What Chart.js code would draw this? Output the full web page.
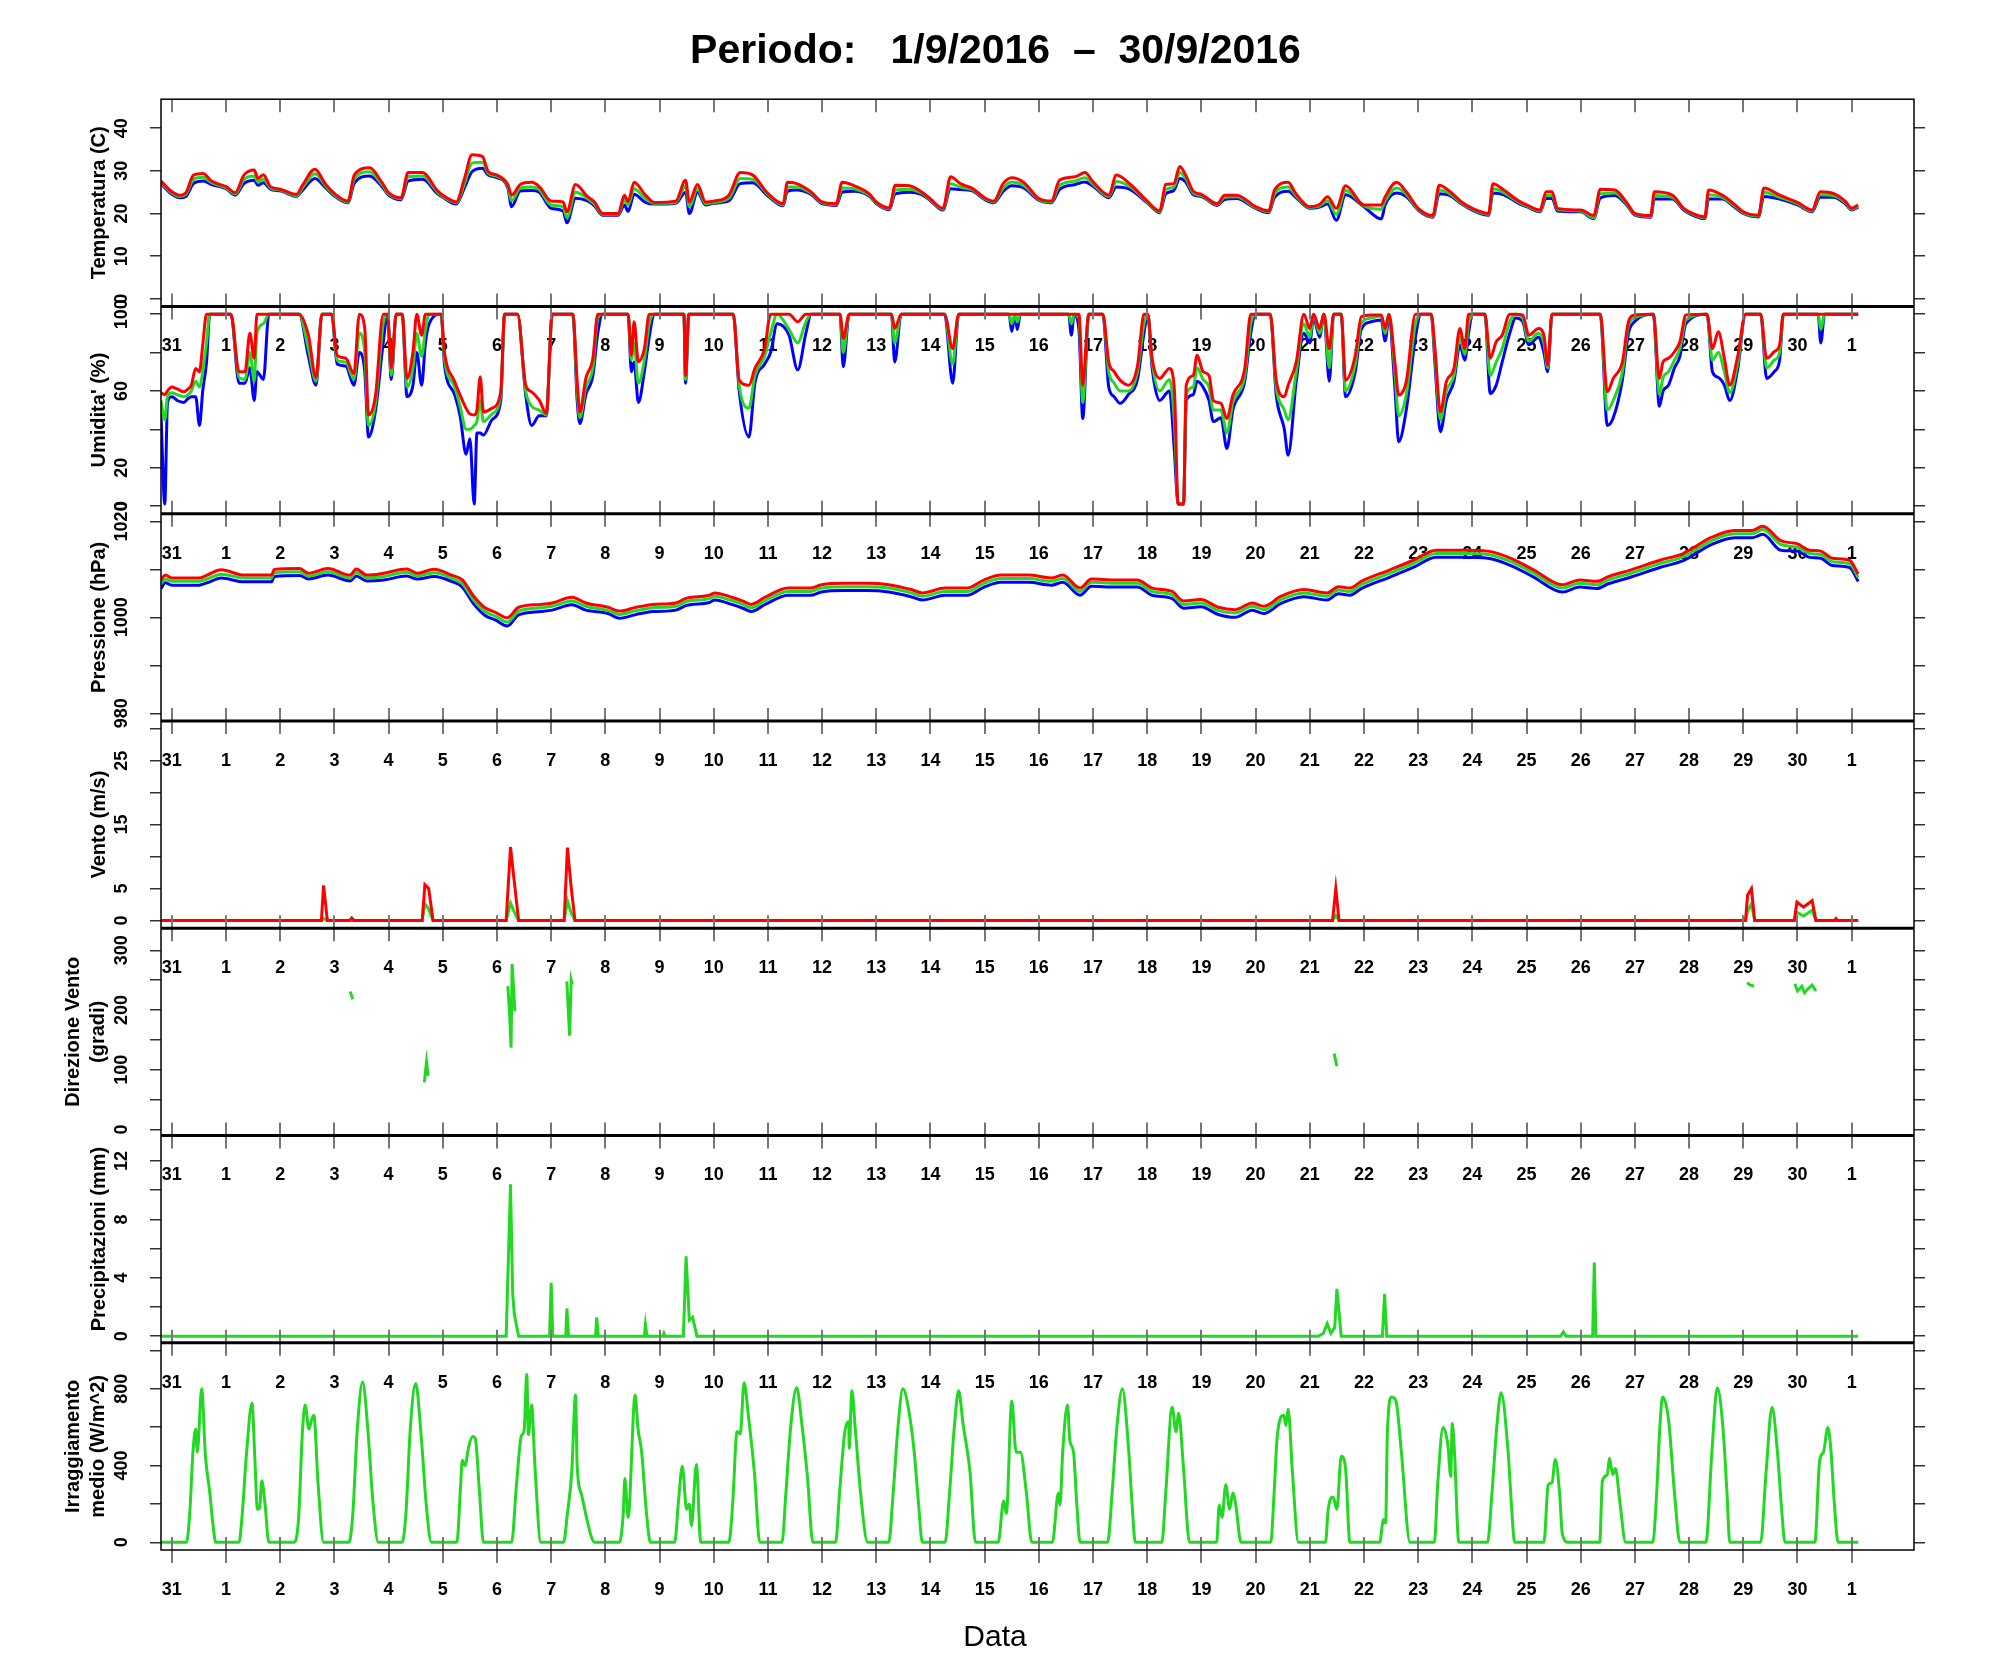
<!DOCTYPE html>
<html>
<head>
<meta charset="utf-8">
<title>Periodo 1/9/2016 - 30/9/2016</title>
<script src="https://cdn.jsdelivr.net/npm/chart.js@4.4.1/dist/chart.umd.min.js"></script>
<style>
  body { margin: 0; background: #fff; }
  #wrap { width: 1991px; height: 1680px; }
</style>
</head>
<body>
<div id="wrap"><canvas id="meteo" width="1991" height="1680"></canvas></div>
<script>
// asse x in giorni: 0 = "31" (agosto), 31 = "1" (ottobre)
const dayTicks = [0,1,2,3,4,5,6,7,8,9,10,11,12,13,14,15,16,17,18,19,20,21,22,23,24,25,26,27,28,29,30,31];
const dayLabels = ['31','1','2','3','4','5','6','7','8','9','10','11','12','13','14','15','16','17','18','19','20','21','22','23','24','25','26','27','28','29','30','1'];

// temperatura (C): max rosso, media verde, min blu
const tempX = [
  -0.2, 0, 0.15, 0.26, 0.4, 0.58, 0.73, 1.0, 1.17, 1.33,
  1.52, 1.59, 1.69, 1.82, 2.0, 2.3, 2.41, 2.64, 2.84, 3.0,
  3.25, 3.37, 3.65, 3.87, 4.0, 4.23, 4.36, 4.63, 4.89, 5.0,
  5.25, 5.4, 5.54, 5.73, 5.84, 6.0, 6.2, 6.27, 6.43, 6.64,
  6.78, 7.0, 7.22, 7.29, 7.45, 7.66, 7.8, 7.95, 8.24, 8.35,
  8.42, 8.53, 8.74, 8.9, 9.3, 9.48, 9.55, 9.7, 9.85, 10.0,
  10.28, 10.49, 10.72, 11.0, 11.28, 11.36, 11.53, 11.79, 12.0, 12.26,
  12.37, 12.59, 12.88, 13.0, 13.24, 13.35, 13.61, 13.83, 14.0, 14.23,
  14.37, 14.55, 14.77, 15.0, 15.17, 15.34, 15.5, 15.72, 16.0, 16.23,
  16.38, 16.67, 16.85, 17.0, 17.29, 17.43, 17.69, 18.0, 18.23, 18.34,
  18.49, 18.6, 18.71, 18.85, 19.0, 19.29, 19.43, 19.65, 20.0, 20.24,
  20.35, 20.6, 20.74, 21.0, 21.18, 21.33, 21.49, 21.66, 22.0, 22.32,
  22.39, 22.6, 22.78, 23.0, 23.27, 23.39, 23.59, 23.8, 24.0, 24.3,
  24.38, 24.58, 24.86, 25.0, 25.25, 25.36, 25.47, 25.57, 26.0, 26.24,
  26.36, 26.63, 26.84, 27.0, 27.29, 27.36, 27.69, 27.9, 28.0, 28.29,
  28.36, 28.61, 28.82, 29.0, 29.28, 29.38, 29.67, 30.0, 30.27, 30.42,
  30.66, 30.88, 31.0, 31.12
];
const tempMax = [
  27.6, 25.1, 24.3, 24.9, 29.0, 29.4, 27.6, 26.3, 24.9, 29.0,
  30.2, 28.2, 29.1, 26.3, 25.7, 24.5, 26.6, 30.4, 26.8, 24.7,
  22.9, 29.1, 30.7, 27.4, 24.9, 23.7, 29.6, 29.6, 25.5, 24.3,
  22.7, 28.2, 33.8, 33.4, 29.8, 29.0, 26.8, 24.3, 26.8, 27.3,
  26.3, 22.9, 22.7, 20.4, 26.8, 24.1, 22.7, 20.0, 20.0, 24.3,
  22.8, 27.3, 24.3, 22.6, 22.9, 27.8, 22.7, 26.8, 22.7, 22.9,
  24.3, 29.6, 29.0, 24.7, 22.3, 27.3, 27.0, 25.1, 22.7, 22.3,
  27.3, 26.5, 24.5, 22.7, 21.3, 26.6, 26.5, 25.1, 23.4, 21.2,
  28.6, 27.0, 25.9, 23.7, 22.9, 27.0, 28.4, 27.3, 23.5, 22.9,
  27.8, 28.6, 29.6, 27.4, 24.3, 29.0, 26.8, 22.9, 20.6, 26.8,
  27.0, 31.0, 29.0, 25.2, 24.5, 22.3, 24.3, 24.3, 21.6, 20.6,
  25.5, 27.3, 24.7, 21.6, 22.1, 23.9, 21.2, 26.5, 22.0, 22.0,
  23.9, 27.3, 25.1, 21.2, 19.5, 26.6, 25.1, 22.7, 21.2, 20.0,
  27.0, 25.5, 22.9, 22.0, 20.8, 25.1, 25.1, 21.2, 20.8, 19.5,
  25.7, 25.5, 22.7, 20.0, 19.5, 25.1, 24.3, 21.2, 20.4, 19.2,
  25.5, 24.3, 22.3, 20.4, 19.6, 26.0, 24.3, 22.6, 20.8, 25.1,
  24.7, 22.9, 21.2, 22.0
];
const tempMean = [
  27.3, 24.8, 24.0, 24.5, 28.0, 28.5, 27.2, 26.0, 24.6, 28.0,
  28.8, 27.4, 28.0, 26.0, 25.5, 24.2, 26.0, 29.3, 26.4, 24.4,
  22.7, 28.2, 29.8, 26.9, 24.6, 23.5, 28.6, 28.8, 25.2, 24.0,
  22.5, 27.0, 31.8, 32.0, 29.4, 28.7, 26.4, 23.0, 26.0, 26.2,
  25.6, 22.0, 21.6, 19.0, 25.0, 23.6, 22.2, 19.8, 19.8, 23.2,
  22.0, 25.8, 23.5, 22.4, 22.6, 26.4, 21.6, 25.8, 22.3, 22.6,
  23.6, 28.2, 28.0, 24.4, 22.0, 26.2, 26.2, 24.8, 22.5, 22.1,
  26.0, 25.8, 24.2, 22.5, 21.1, 25.5, 25.7, 24.8, 23.2, 21.0,
  27.0, 26.2, 25.6, 23.5, 22.7, 26.0, 27.4, 26.6, 23.3, 22.7,
  26.6, 27.6, 28.4, 26.9, 24.0, 27.5, 26.2, 22.7, 20.4, 25.6,
  26.2, 29.6, 28.2, 24.8, 24.2, 22.1, 23.8, 23.9, 21.4, 20.4,
  24.6, 26.2, 24.2, 21.4, 21.8, 23.0, 19.8, 25.4, 21.8, 21.0,
  23.0, 26.0, 24.5, 21.0, 19.3, 25.5, 24.6, 22.4, 21.0, 19.8,
  25.8, 24.9, 22.6, 21.8, 20.6, 24.2, 24.3, 21.0, 20.6, 19.0,
  24.6, 24.8, 22.4, 19.8, 19.3, 24.2, 23.8, 21.0, 20.2, 19.0,
  24.4, 23.8, 22.0, 20.2, 19.4, 25.0, 23.8, 22.3, 20.6, 24.4,
  24.2, 22.6, 21.0, 21.7
];
const tempMin = [
  27.0, 24.5, 23.7, 24.0, 27.0, 27.6, 26.8, 25.8, 24.3, 27.0,
  27.8, 26.6, 27.2, 25.7, 25.3, 24.0, 25.4, 28.2, 26.0, 24.1,
  22.5, 27.2, 28.8, 26.4, 24.3, 23.2, 27.6, 28.0, 24.8, 23.8,
  22.2, 26.0, 29.8, 30.6, 29.0, 28.4, 26.0, 21.6, 25.3, 25.4,
  25.0, 21.2, 20.6, 17.8, 23.6, 23.0, 21.8, 19.6, 19.6, 22.0,
  20.5, 24.5, 22.6, 22.2, 22.4, 25.0, 20.0, 25.0, 22.0, 22.4,
  23.0, 27.0, 27.2, 24.1, 21.8, 25.2, 25.5, 24.5, 22.3, 21.9,
  25.0, 25.2, 24.0, 22.3, 20.9, 24.6, 25.0, 24.5, 23.0, 20.8,
  25.8, 25.6, 25.3, 23.3, 22.5, 25.2, 26.5, 26.0, 23.1, 22.5,
  25.6, 26.8, 27.4, 26.4, 23.7, 26.2, 25.6, 22.5, 20.2, 24.6,
  25.4, 28.2, 27.4, 24.4, 24.0, 21.9, 23.3, 23.5, 21.2, 20.2,
  23.8, 25.2, 23.8, 21.2, 21.5, 22.2, 18.4, 24.4, 21.6, 18.7,
  22.0, 24.8, 24.0, 20.8, 19.1, 24.6, 24.2, 22.2, 20.8, 19.6,
  24.8, 24.4, 22.3, 21.6, 20.4, 23.5, 23.6, 20.6, 20.4, 18.8,
  23.6, 24.2, 22.1, 19.6, 19.1, 23.4, 23.4, 20.8, 20.0, 18.8,
  23.4, 23.4, 21.7, 20.0, 19.2, 24.0, 23.4, 22.0, 20.4, 23.8,
  23.8, 22.3, 20.8, 21.5
];

// umidita' (%)
const humX = [
  -0.2, -0.13, -0.08, 0, 0.1, 0.22, 0.3, 0.36, 0.44, 0.51,
  0.57, 0.64, 0.7, 1.09, 1.24, 1.35, 1.44, 1.52, 1.57, 1.69,
  1.79, 2.35, 2.52, 2.66, 2.77, 2.95, 3.05, 3.21, 3.36, 3.46,
  3.56, 3.63, 3.76, 3.9, 3.98, 4.05, 4.14, 4.25, 4.34, 4.45,
  4.52, 4.61, 4.68, 4.75, 4.97, 5.03, 5.22, 5.32, 5.43, 5.5,
  5.58, 5.63, 5.69, 5.75, 5.91, 6.07, 6.14, 6.38, 6.53, 6.64,
  6.78, 6.91, 7.02, 7.4, 7.48, 7.53, 7.64, 7.77, 7.86, 7.95,
  8.42, 8.48, 8.53, 8.61, 8.72, 8.81, 8.9, 9.45, 9.48, 9.54,
  10.36, 10.47, 10.65, 10.76, 10.94, 11.05, 11.17, 11.39, 11.55, 11.7,
  11.8, 12.33, 12.39, 12.5, 13.28, 13.34, 13.46, 14.26, 14.41, 14.52,
  15.45, 15.5, 15.56, 15.6, 15.66, 16.55, 16.6, 16.65, 16.74, 16.81,
  16.92, 17.18, 17.29, 17.39, 17.5, 17.65, 17.82, 17.94, 18.01, 18.09,
  18.23, 18.41, 18.5, 18.57, 18.67, 18.72, 18.85, 18.92, 19.03, 19.14,
  19.22, 19.36, 19.47, 19.58, 19.8, 19.91, 20.0, 20.27, 20.38, 20.53,
  20.6, 20.75, 20.89, 21.0, 21.07, 21.18, 21.26, 21.36, 21.44, 21.58,
  21.66, 21.84, 21.95, 22.13, 22.32, 22.39, 22.46, 22.57, 22.64, 22.78,
  22.95, 23.05, 23.24, 23.31, 23.41, 23.52, 23.66, 23.77, 23.86, 23.93,
  24.0, 24.23, 24.33, 24.44, 24.55, 24.69, 24.8, 24.93, 25.04, 25.22,
  25.32, 25.39, 25.47, 26.36, 26.49, 26.6, 26.77, 26.88, 26.99, 27.34,
  27.45, 27.52, 27.62, 27.73, 27.83, 27.94, 28.33, 28.43, 28.54, 28.65,
  28.75, 28.9, 29.04, 29.32, 29.43, 29.57, 29.67, 29.74, 30.38, 30.43,
  30.5, 31.12
];
const humMax = [
  59, 58, 60, 62, 61, 59.5, 61, 63, 71.7, 70,
  84, 100, 100, 100, 70, 70, 90, 77, 100, 100,
  100, 100, 89, 67, 100, 100, 78.6, 77, 69, 100,
  92.5, 47.4, 58, 100, 100, 72, 100, 100, 66.5, 80.4,
  100, 89, 100, 100, 100, 80.4, 64.8, 57.8, 50.9, 48,
  47.4, 50, 67.4, 49, 51, 59.5, 100, 100, 63, 59.5,
  55.2, 48.3, 100, 100, 64.8, 49, 66.5, 77, 100, 100,
  100, 78.6, 96, 75.2, 82, 100, 100, 100, 68, 100,
  100, 65.6, 63, 71.7, 82, 100, 100, 100, 96, 100,
  100, 100, 87.3, 100, 100, 92.5, 100, 100, 82, 100,
  100, 100, 100, 100, 100, 100, 100, 100, 100, 63,
  100, 100, 75, 70, 65.6, 63, 73, 100, 100, 77,
  66.5, 71.7, 61, 1, 1, 63, 68, 78.6, 70, 68,
  55, 53.5, 45.6, 57.8, 71.7, 100, 100, 100, 65.6, 57,
  63, 75, 100, 92.5, 100, 92.5, 100, 82, 100, 100,
  65.6, 78.6, 98.6, 99.5, 99.5, 92.5, 100, 75, 57.8, 64.8,
  100, 100, 100, 82, 49, 64.8, 71.7, 92.5, 82, 100,
  100, 100, 77, 85.6, 89, 100, 100, 99.5, 89, 92.5,
  89, 73.4, 100, 100, 59.5, 66.5, 75.2, 96, 99.5, 100,
  66.5, 75.2, 77, 80.4, 85.6, 99.5, 100, 82, 90.8, 77,
  63, 78.6, 100, 100, 77, 80.4, 84, 100, 100, 100,
  100, 100
];
const humMean = [
  55, 45, 57, 59, 58, 57, 58, 60, 65, 62,
  70, 85, 100, 100, 67, 66, 80, 65, 90, 95,
  100, 100, 82, 65, 100, 100, 76, 75, 66, 90,
  80, 42, 54, 95, 100, 68, 100, 100, 62, 72,
  90, 78, 92, 100, 100, 77, 62, 52, 40, 40,
  42, 44, 55, 44, 48, 58, 100, 100, 60, 52,
  50, 47.5, 100, 100, 60, 46, 62, 72, 98, 100,
  100, 76, 85, 64, 76, 95, 100, 100, 66, 100,
  100, 63, 51, 68, 78, 90, 100, 92, 85, 96,
  100, 100, 80, 100, 100, 85, 100, 100, 74, 100,
  100, 95, 100, 96, 100, 100, 95, 100, 98, 54,
  100, 100, 70, 64, 60, 60, 70, 95, 100, 75,
  60, 66, 45, 1, 1, 58, 62, 72, 66, 62,
  50, 50, 38, 54, 68, 95, 100, 100, 62, 50,
  45, 70, 95, 88, 100, 90, 100, 72, 100, 100,
  60, 74, 95, 98, 99, 90, 100, 70, 47, 58,
  95, 100, 100, 78, 45, 60, 68, 88, 79, 95,
  100, 100, 68, 75, 82, 96, 100, 98, 86, 90,
  85, 72, 100, 100, 50, 55, 70, 94, 98, 100,
  58, 67, 70, 76, 82, 97, 100, 76, 80, 70,
  59, 75, 100, 100, 72, 76, 80, 100, 100, 92,
  100, 100
];
const humMin = [
  48, 1, 54, 57, 55, 54, 56, 57, 57, 42,
  60, 75, 100, 100, 64, 64, 72, 55, 70, 66,
  100, 100, 78, 63, 100, 100, 74, 73, 63, 80,
  70, 36, 50, 85, 100, 66, 100, 100, 57, 63,
  80, 63, 85, 95, 100, 74, 58, 47, 27, 35,
  1, 38, 38, 37, 45, 55, 100, 100, 58, 42,
  47, 47, 100, 100, 55, 43, 58, 68, 90, 100,
  100, 70, 75, 54, 70, 88, 100, 100, 64, 100,
  100, 60, 36, 64, 74, 80, 95, 89, 71, 90,
  100, 100, 72.6, 100, 100, 75, 100, 100, 64, 100,
  100, 91, 100, 92, 100, 100, 89, 100, 92, 45.6,
  100, 100, 62, 57, 53.5, 58, 66, 90, 100, 72,
  55, 60, 29, 1, 1, 55, 58, 65, 62, 55,
  44, 46, 30, 50, 65, 90, 100, 100, 58, 40,
  26.5, 65, 90, 85, 98, 88, 100, 65, 100, 100,
  57, 70, 92, 96, 97, 86, 98, 62, 33.5, 50,
  88, 100, 100, 74, 38.7, 55, 65, 84, 76, 90,
  100, 100, 58.7, 63, 75, 90, 98, 96, 84, 88,
  80, 70, 100, 100, 42, 46, 66, 90, 96, 100,
  52, 60, 63, 72, 78, 95, 100, 70, 67, 63,
  55, 72, 100, 100, 66.5, 70, 76, 100, 100, 85,
  100, 100
];

// pressione (hPa)
const presX = [
  -0.2, -0.12, 0, 0.5, 0.65, 0.91, 1.33, 1.84, 1.89, 2.36,
  2.52, 2.88, 3.29, 3.4, 3.6, 3.91, 4.33, 4.53, 4.84, 5.16,
  5.36, 5.57, 5.78, 5.98, 6.19, 6.4, 6.81, 7.02, 7.38, 7.64,
  8.05, 8.26, 8.57, 8.88, 9.3, 9.5, 9.92, 10.02, 10.33, 10.54,
  10.69, 10.95, 11.37, 11.78, 11.99, 12.4, 12.82, 13.23, 13.64, 13.85,
  14.27, 14.68, 14.99, 15.3, 15.81, 16.23, 16.44, 16.76, 16.97, 17.4,
  17.82, 18.09, 18.46, 18.67, 18.99, 19.31, 19.62, 19.94, 20.15, 20.47,
  20.89, 21.32, 21.53, 21.74, 21.95, 22.48, 22.91, 23.33, 23.86, 24.28,
  24.71, 25.13, 25.66, 25.98, 26.3, 26.51, 26.93, 27.46, 27.89, 28.42,
  28.84, 29.16, 29.36, 29.69, 30.0, 30.22, 30.43, 30.64, 30.96, 31.12
];
const presMax = [
  1007.8, 1008.8, 1008.2, 1008.2, 1008.8, 1009.9, 1008.8, 1008.8, 1010.0, 1010.2,
  1009.2, 1010.2, 1008.8, 1010.1, 1008.8, 1009.2, 1010.1, 1009.2, 1010.0, 1008.8,
  1007.8, 1004.4, 1002.0, 1001.0, 999.9, 1002.1, 1002.7, 1003.0, 1004.2, 1003.0,
  1002.1, 1001.3, 1002.1, 1002.7, 1003.0, 1004.0, 1004.6, 1005.1, 1004.2, 1003.4,
  1002.7, 1004.2, 1006.1, 1006.1, 1006.8, 1007.1, 1007.1, 1006.8, 1005.8, 1005.1,
  1006.1, 1006.1, 1007.8, 1008.8, 1008.8, 1008.2, 1008.8, 1006.1, 1008.0, 1007.8,
  1007.8, 1006.1, 1005.4, 1003.4, 1003.7, 1002.1, 1001.6, 1003.0, 1002.3, 1004.4,
  1005.8, 1005.1, 1006.4, 1006.1, 1007.5, 1009.9, 1011.9, 1014.0, 1014.0, 1013.8,
  1012.3, 1009.9, 1006.8, 1007.8, 1007.5, 1008.5, 1009.9, 1011.9, 1013.3, 1016.7,
  1018.1, 1018.1, 1019.0, 1016.0, 1015.3, 1014.0, 1013.8, 1012.3, 1011.9, 1009.0
];
const presMean = [
  1007.0, 1008.0, 1007.5, 1007.5, 1008.0, 1009.0, 1008.2, 1008.2, 1009.3, 1009.5,
  1008.6, 1009.5, 1008.2, 1009.4, 1008.2, 1008.5, 1009.4, 1008.6, 1009.3, 1008.2,
  1007.0, 1003.6, 1001.2, 1000.2, 999.0, 1001.3, 1002.0, 1002.3, 1003.4, 1002.3,
  1001.4, 1000.6, 1001.4, 1002.0, 1002.3, 1003.3, 1003.9, 1004.4, 1003.5, 1002.7,
  1002.0, 1003.5, 1005.4, 1005.4, 1006.1, 1006.4, 1006.4, 1006.1, 1005.1, 1004.4,
  1005.4, 1005.4, 1007.1, 1008.1, 1008.1, 1007.5, 1008.1, 1005.4, 1007.3, 1007.1,
  1007.1, 1005.4, 1004.7, 1002.7, 1003.0, 1001.4, 1000.9, 1002.3, 1001.6, 1003.7,
  1005.1, 1004.4, 1005.7, 1005.4, 1006.8, 1009.2, 1011.2, 1013.3, 1013.3, 1013.1,
  1011.6, 1009.2, 1006.1, 1007.1, 1006.8, 1007.8, 1009.2, 1011.2, 1012.6, 1016.0,
  1017.4, 1017.4, 1018.3, 1015.2, 1014.6, 1013.3, 1013.1, 1011.6, 1011.2, 1008.3
];
const presMin = [
  1006.0, 1007.2, 1006.7, 1006.7, 1007.2, 1008.2, 1007.4, 1007.4, 1008.5, 1008.7,
  1008.0, 1008.8, 1007.6, 1008.6, 1007.6, 1007.8, 1008.6, 1008.0, 1008.5, 1007.5,
  1006.3, 1002.8, 1000.4, 999.4, 998.2, 1000.5, 1001.2, 1001.5, 1002.6, 1001.5,
  1000.8, 999.8, 1000.6, 1001.2, 1001.5, 1002.5, 1003.1, 1003.6, 1002.7, 1001.9,
  1001.2, 1002.7, 1004.6, 1004.6, 1005.3, 1005.6, 1005.6, 1005.3, 1004.3, 1003.6,
  1004.6, 1004.6, 1006.3, 1007.3, 1007.3, 1006.7, 1007.3, 1004.6, 1006.5, 1006.3,
  1006.3, 1004.6, 1003.9, 1001.9, 1002.2, 1000.6, 1000.0, 1001.5, 1000.8, 1002.9,
  1004.3, 1003.6, 1004.9, 1004.6, 1006.0, 1008.4, 1010.4, 1012.5, 1012.5, 1012.3,
  1010.8, 1008.4, 1005.3, 1006.3, 1006.0, 1007.0, 1008.4, 1010.4, 1011.8, 1015.2,
  1016.6, 1016.6, 1017.3, 1014.0, 1013.8, 1012.5, 1012.3, 1010.8, 1010.4, 1007.5
];

// vento (m/s): raffica rossa, media verde
const windX = [-0.2, 2.76, 2.8, 2.87, 3.28, 3.32, 3.36, 4.62, 4.67, 4.74, 4.82, 6.17, 6.25, 6.31, 6.4, 7.24, 7.3, 7.37, 7.44,
  21.42, 21.48, 21.54, 29.04, 29.08, 29.15, 29.21, 29.94, 29.99, 30.11, 30.27, 30.34, 30.68, 30.71, 30.74, 31.12];
const windMax = [0, 0, 5.5, 0, 0, 0.4, 0, 0, 5.6, 5.0, 0, 0, 11.5, 6.8, 0, 0, 11.4, 5.2, 0,
  0, 5.0, 0, 0, 4.0, 5.0, 0, 0, 2.9, 2.1, 3.1, 0, 0, 0.3, 0, 0];
const windMean = [0, 0, 0.3, 0, 0, 0, 0, 0, 2.6, 1.8, 0, 0, 2.7, 1.5, 0, 0, 3.1, 1.2, 0,
  0, 0.8, 0, 0, 1.5, 2.6, 0, 0, 1.3, 0.7, 1.6, 0, 0, 0, 0, 0];

// direzione vento (gradi), null = nessun dato
const dirX = [3.29, 3.34, 3.35, 4.66, 4.70, 4.73, 4.74, 6.2, 6.23, 6.26, 6.28, 6.31, 6.33, 6.34,
  7.29, 7.34, 7.37, 7.39, 7.4, 21.45, 21.5, 21.51, 29.07, 29.12, 29.2, 29.21,
  29.95, 30.0, 30.08, 30.13, 30.2, 30.27, 30.34];
const dirMean = [231, 218, null, 79, 113, 90, null, 240, 200, 137, 277, 230, 198, null,
  248, 157, 250, 243, null, 127, 106, null, 246, 242, 240, null,
  244, 232, 240, 229, 236, 242, 232];

// precipitazioni (mm)
const rainX = [-0.2, 6.17, 6.25, 6.29, 6.32, 6.4, 6.97, 7.0, 7.03, 7.27, 7.29, 7.32, 7.82, 7.84, 7.87,
  8.72, 8.74, 8.77, 9.06, 9.08, 9.1, 9.44, 9.49, 9.55, 9.61, 9.69,
  21.16, 21.25, 21.32, 21.39, 21.46, 21.5, 21.58, 22.34, 22.38, 22.42,
  25.63, 25.68, 25.73, 26.22, 26.25, 26.28, 31.12];
const rainV = [0, 0, 10.4, 2.96, 1.5, 0, 0, 3.65, 0, 0, 1.9, 0, 0, 1.28, 0,
  0, 0.8, 0, 0, 0.2, 0, 0, 5.47, 1.1, 1.3, 0,
  0, 0.2, 0.86, 0.2, 0.6, 3.24, 0, 0, 2.9, 0,
  0, 0.3, 0, 0, 5.05, 0, 0];

// irraggiamento medio (W/m^2), un gruppo per giorno
const radX = [-0.2,
  0.27, 0.33, 0.39, 0.44, 0.47, 0.55, 0.62, 0.70, 0.76, 0.81,
  1.24, 1.3, 1.38, 1.48, 1.53, 1.58, 1.62, 1.66, 1.72, 1.79,
  2.26, 2.34, 2.41, 2.46, 2.53, 2.58, 2.62, 2.7, 2.8,
  3.27, 3.34, 3.42, 3.52, 3.62, 3.71, 3.81,
  4.25, 4.32, 4.40, 4.50, 4.60, 4.70, 4.79,
  5.26, 5.33, 5.36, 5.41, 5.48, 5.55, 5.6, 5.68, 5.75,
  6.27, 6.36, 6.45, 6.5, 6.55, 6.58, 6.64, 6.7, 6.81,
  7.23, 7.3, 7.38, 7.45, 7.48, 7.56, 7.66, 7.74, 7.8,
  8.26, 8.33, 8.36, 8.42, 8.55, 8.6, 8.67, 8.76, 8.83,
  9.28, 9.35, 9.42, 9.5, 9.55, 9.59, 9.68, 9.76,
  10.28, 10.35, 10.43, 10.49, 10.56, 10.64, 10.75, 10.85,
  11.26, 11.33, 11.42, 11.53, 11.63, 11.73, 11.83,
  12.25, 12.32, 12.42, 12.49, 12.5, 12.55, 12.61, 12.71, 12.84,
  13.23, 13.31, 13.4, 13.49, 13.59, 13.7, 13.78, 13.85,
  14.27, 14.35, 14.44, 14.52, 14.6, 14.73, 14.83,
  15.25, 15.35, 15.4, 15.5, 15.58, 15.66, 15.77, 15.87,
  16.25, 16.36, 16.39, 16.44, 16.53, 16.57, 16.64, 16.7, 16.76,
  17.27, 17.35, 17.44, 17.54, 17.66, 17.72, 17.78,
  18.27, 18.34, 18.46, 18.53, 18.58, 18.67, 18.78,
  19.28, 19.33, 19.38, 19.45, 19.52, 19.58, 19.64, 19.73,
  20.28, 20.34, 20.4, 20.52, 20.56, 20.6, 20.68, 20.79,
  21.29, 21.34, 21.43, 21.5, 21.58, 21.66, 21.74,
  22.29, 22.36, 22.4, 22.43, 22.51, 22.59, 22.69, 22.85,
  23.3, 23.36, 23.46, 23.55, 23.6, 23.63, 23.67, 23.75,
  24.28, 24.36, 24.45, 24.53, 24.66, 24.72, 24.78,
  25.32, 25.4, 25.47, 25.53, 25.61, 25.66, 25.77,
  26.35, 26.4, 26.49, 26.53, 26.59, 26.64, 26.72, 26.83,
  27.33, 27.4, 27.46, 27.51, 27.62, 27.73, 27.83,
  28.31, 28.42, 28.52, 28.63, 28.7, 28.75,
  29.32, 29.42, 29.53, 29.63, 29.7, 29.77,
  30.32, 30.41, 30.48, 30.56, 30.62, 30.68, 30.75, 31.12
];
const radV = [0,
  0, 150, 470, 590, 470, 800, 450, 260, 90, 0,
  0, 150, 470, 725, 450, 172, 180, 321, 200, 0,
  0, 130, 577, 715, 590, 640, 662, 300, 0,
  0, 150, 577, 836, 577, 215, 0,
  0, 150, 590, 828, 560, 180, 0,
  0, 300, 428, 400, 500, 551, 540, 250, 0,
  0, 300, 555, 580, 874, 560, 715, 400, 0,
  0, 150, 364, 768, 400, 250, 120, 30, 0,
  0, 150, 332, 130, 768, 598, 470, 150, 0,
  0, 215, 396, 172, 200, 87, 406, 0,
  0, 200, 577, 565, 832, 660, 364, 0,
  0, 250, 600, 806, 608, 340, 0,
  0, 250, 577, 630, 490, 790, 600, 257, 0,
  0, 250, 600, 800, 704, 470, 200, 0,
  0, 250, 600, 790, 620, 364, 0,
  0, 215, 150, 736, 470, 470, 257, 0,
  0, 257, 194, 470, 715, 534, 470, 200, 0,
  0, 250, 600, 800, 470, 200, 0,
  0, 250, 704, 577, 672, 385, 0,
  0, 194, 130, 300, 172, 257, 183, 0,
  0, 250, 555, 662, 609, 694, 364, 0,
  0, 172, 236, 172, 449, 385, 0,
  0, 119, 100, 555, 757, 736, 470, 0,
  0, 300, 598, 502, 343, 619, 470, 0,
  0, 250, 600, 779, 470, 200, 0,
  0, 300, 311, 432, 257, 45, 0,
  0, 321, 353, 438, 353, 385, 215, 0,
  0, 250, 600, 757, 640, 257, 0,
  0, 470, 806, 577, 250, 0,
  0, 364, 704, 470, 200, 0,
  0, 428, 470, 598, 470, 200, 0, 0
];

// tacche degli assi y e quali etichette R lascia visibili
const tempTicks = [0, 10, 20, 30, 40],          tempShown = [0, 10, 20, 30, 40];
const humTicks = [0, 20, 40, 60, 80, 100],      humShown = [0, 20, 60, 100];
const presTicks = [980, 990, 1000, 1010, 1020], presShown = [980, 1000, 1020];
const windTicks = [0, 5, 10, 15, 20, 25, 30],   windShown = [0, 5, 15, 25];
const dirTicks = [0, 50, 100, 150, 200, 250, 300], dirShown = [0, 100, 200, 300];
const rainTicks = [0, 2, 4, 6, 8, 10, 12],      rainShown = [0, 4, 8, 12];
const radTicks = [0, 200, 400, 600, 800, 1000], radShown = [0, 400, 800];

const FONT = '"Liberation Sans", Arial, Helvetica, sans-serif';
const RED = '#ff0000', GREEN = '#22d822', BLUE = '#0000ff';
Chart.defaults.font.family = FONT;

const panels = [
  {id: 'yT', min: -1.8, max: 46.8, ticks: tempTicks, shown: tempShown, title: 'Temperatura (C)'},
  {id: 'yH', min: -4, max: 104, ticks: humTicks, shown: humShown, title: "Umidita' (%)"},
  {id: 'yP', min: 978.4, max: 1021.6, ticks: presTicks, shown: presShown, title: 'Pressione (hPa)'},
  {id: 'yW', min: -1.2, max: 31.2, ticks: windTicks, shown: windShown, title: 'Vento (m/s)'},
  {id: 'yD', min: -10, max: 337, ticks: dirTicks, shown: dirShown, title: ['Direzione Vento', '(gradi)']},
  {id: 'yR', min: -0.45, max: 13.75, ticks: rainTicks, shown: rainShown, title: 'Precipitazioni (mm)'},
  {id: 'yI', min: -40, max: 1040, ticks: radTicks, shown: radShown, title: ['Irraggiamento', 'medio (W/m^2)']}
];

// smooth = curva monotona tra i punti letti (niente punti aggiunti)
function serie(xs, ys, color, axis, smooth) {
  return {
    data: xs.map((x, i) => ({x: x, y: ys[i]})),
    borderColor: color,
    borderWidth: 3,
    pointRadius: 0,
    tension: smooth ? 0.4 : 0,
    cubicInterpolationMode: smooth ? 'monotone' : 'default',
    spanGaps: false,
    xAxisID: 'x',
    yAxisID: axis
  };
}

const scales = {
  x: {
    type: 'linear',
    position: 'bottom',
    min: -0.2,
    max: 32.15,
    afterBuildTicks: s => { s.ticks = dayTicks.map(v => ({value: v})); },
    afterFit: s => { s.height = 130; },
    ticks: {
      autoSkip: false, maxRotation: 0, minRotation: 0, padding: 16, color: '#000',
      font: {size: 18, weight: 'bold'},
      callback: (v, i) => dayLabels[i]
    },
    grid: {drawOnChartArea: false, drawTicks: true, tickLength: 13, color: '#777', lineWidth: 2},
    border: {display: false}
  }
};

panels.forEach((p, i) => {
  const twoLines = Array.isArray(p.title);
  const tickFn = s => { s.ticks = p.ticks.map(v => ({value: v})); };
  scales[p.id] = {
    type: 'linear', position: 'left', stack: 'left', stackWeight: 1, weight: panels.length - i,
    min: p.min, max: p.max,
    afterBuildTicks: tickFn,
    afterFit: s => { s.width = 161; },
    ticks: {display: false},
    grid: {drawOnChartArea: false, drawTicks: true, tickLength: 11, color: '#333', lineWidth: 1.5},
    border: {display: false},
    title: {
      display: true, text: p.title, color: '#000',
      font: {size: 20, weight: 'bold', lineHeight: 1.25},
      padding: {top: twoLines ? 60.5 : 86.5, bottom: 0}
    }
  };
  scales['r' + p.id] = {
    type: 'linear', axis: 'y', position: 'right', stack: 'right', stackWeight: 1, weight: i + 1,
    min: p.min, max: p.max,
    afterBuildTicks: tickFn,
    afterFit: s => { s.width = 77; },
    ticks: {display: false},
    grid: {drawOnChartArea: false, drawTicks: true, tickLength: 11, color: '#333', lineWidth: 1.5},
    border: {display: false}
  };
});

// cornici dei pannelli, tacche dei giorni ed etichette ruotate come in R
const cornice = {
  id: 'cornice',
  beforeDatasetsDraw(chart) {
    const ctx = chart.ctx;
    const xs = chart.scales.x;
    ctx.save();
    ctx.fillStyle = '#000';
    ctx.textAlign = 'center';
    ctx.textBaseline = 'middle';
    ctx.font = 'bold 18px ' + FONT;
    // l'asse x di ogni pannello finisce dentro il pannello sotto
    panels.slice(1).forEach(p => {
      const y = chart.scales[p.id].top + 40;
      dayTicks.forEach((d, i) => ctx.fillText(dayLabels[i], xs.getPixelForValue(d), y));
    });
    panels.forEach(p => {
      const s = chart.scales[p.id];
      p.shown.forEach(v => {
        ctx.save();
        ctx.translate(122, s.getPixelForValue(v));
        ctx.rotate(-Math.PI / 2);
        ctx.fillText(String(v), 0, 0);
        ctx.restore();
      });
    });
    ctx.font = '30px ' + FONT;
    ctx.fillText('Data', 995, 1638);
    ctx.restore();
  },
  afterDatasetsDraw(chart) {
    const ctx = chart.ctx;
    const a = chart.chartArea;
    const xs = chart.scales.x;
    const edges = panels.map(p => chart.scales[p.id].top).concat([a.bottom]);
    ctx.save();
    ctx.strokeStyle = '#777';
    ctx.lineWidth = 2;
    edges.forEach((y, k) => {
      dayTicks.forEach(d => {
        const x = Math.round(xs.getPixelForValue(d));
        ctx.beginPath();
        ctx.moveTo(x, k === 0 ? y : y - 13);
        ctx.lineTo(x, k === edges.length - 1 ? y : y + 13);
        ctx.stroke();
      });
    });
    ctx.strokeStyle = '#000';
    ctx.lineWidth = 1.5;
    ctx.strokeRect(a.left, a.top, a.width, a.height);
    ctx.lineWidth = 3;
    edges.slice(1, -1).forEach(y => {
      ctx.beginPath();
      ctx.moveTo(a.left, y);
      ctx.lineTo(a.right, y);
      ctx.stroke();
    });
    ctx.restore();
  }
};

// Chart.js disegna per ultimo il primo dataset: il rosso va in cima alla lista
new Chart(document.getElementById('meteo'), {
  type: 'line',
  data: {
    datasets: [
      serie(tempX, tempMax, RED, 'yT', true),
      serie(tempX, tempMean, GREEN, 'yT', true),
      serie(tempX, tempMin, BLUE, 'yT', true),
      serie(humX, humMax, RED, 'yH', true),
      serie(humX, humMean, GREEN, 'yH', true),
      serie(humX, humMin, BLUE, 'yH', true),
      serie(presX, presMax, RED, 'yP', true),
      serie(presX, presMean, GREEN, 'yP', true),
      serie(presX, presMin, BLUE, 'yP', true),
      serie(windX, windMax, RED, 'yW', false),
      serie(windX, windMean, GREEN, 'yW', false),
      serie(dirX, dirMean, GREEN, 'yD', false),
      serie(rainX, rainV, GREEN, 'yR', false),
      serie(radX, radV, GREEN, 'yI', true)
    ]
  },
  options: {
    responsive: false,
    maintainAspectRatio: false,
    devicePixelRatio: 1,
    animation: false,
    layout: {autoPadding: false, padding: {top: 1, left: 0, right: 0, bottom: 0}},
    scales: scales,
    plugins: {
      legend: {display: false},
      tooltip: {enabled: false},
      title: {
        display: true,
        text: 'Periodo:   1/9/2016  \u2013  30/9/2016',
        color: '#000',
        font: {size: 41, weight: 'bold'},
        padding: {top: 26, bottom: 23}
      }
    }
  },
  plugins: [cornice]
});
</script>
</body>
</html>
